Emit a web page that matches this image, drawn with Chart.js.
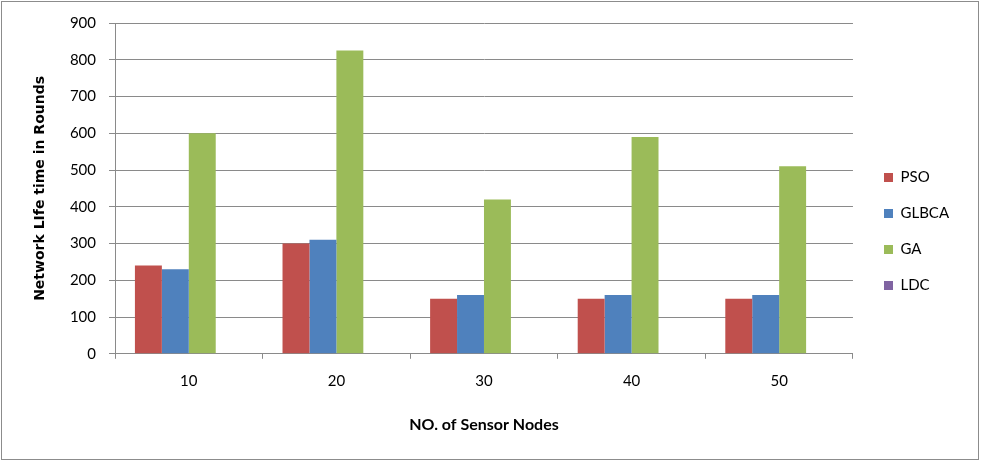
<!DOCTYPE html>
<html>
<head>
<meta charset="utf-8">
<script src="https://cdn.jsdelivr.net/npm/chart.js@4/dist/chart.umd.min.js"></script>
<style>
  html, body { margin: 0; padding: 0; background: #fff; }
  #wrap { width: 981px; height: 462px; }
</style>
</head>
<body>
<div id="wrap"><canvas id="myChart" width="981" height="462"></canvas></div>
<script>
// network lifetime (rounds) per number of sensor nodes
var nodes = ['10', '20', '30', '40', '50'];
var pso   = [240, 300, 150, 150, 150];
var glbca = [230, 310, 160, 160, 160];
var ga    = [600, 825, 420, 590, 510];
var ldc   = [0, 0, 0, 0, 0];

var gridGray = '#8a8a8a';

// frame round the whole picture + nudge legend into place
var framePlugin = {
  id: 'frame',
  afterUpdate: function(chart) {
    var lg = chart.legend;
    var dx = 884 - (lg.left + 21);
    lg.left += dx; lg.right += dx;
    lg.top += 3; lg.bottom += 3;
  },
  beforeDraw: function(chart) {
    var c = chart.ctx;
    c.save();
    c.fillStyle = '#fff';
    c.fillRect(0, 0, chart.width, chart.height);
    c.strokeStyle = '#8c8c8c';
    c.lineWidth = 1;
    c.strokeRect(1.5, 1.5, chart.width - 4, chart.height - 4);
    c.restore();
  }
};

var ctx = document.getElementById('myChart').getContext('2d');

var mychart = new Chart(ctx, {
  type: 'bar',
  data: {
    labels: nodes,
    datasets: [
      { label: 'PSO',   data: pso,   backgroundColor: '#C0504D' },
      { label: 'GLBCA', data: glbca, backgroundColor: '#4F81BD' },
      { label: 'GA',    data: ga,    backgroundColor: '#9BBB59' },
      { label: 'LDC',   data: ldc,   backgroundColor: '#8064A2' }
    ]
  },
  options: {
    responsive: false,
    animation: false,
    layout: { padding: { left: 22, right: 32, top: 23, bottom: 28 } },
    datasets: { bar: { categoryPercentage: 0.73, barPercentage: 1.0 } },
    plugins: {
      tooltip: { enabled: false },
      legend: {
        position: 'right',
        labels: {
          boxWidth: 9, boxHeight: 9, padding: 21,
          color: '#000',
          font: { family: 'Lato', size: 15 }
        }
      }
    },
    scales: {
      x: {
        grid: { display: true, drawOnChartArea: false, color: gridGray, tickLength: 5, offset: true },
        border: { color: gridGray },
        ticks: { color: '#000', padding: 13, font: { family: 'Lato', size: 15 } },
        title: {
          display: true, text: 'NO. of Sensor Nodes', color: '#000',
          font: { family: 'Lato', size: 16, weight: 'bold' },
          padding: { top: 12, bottom: 0 }
        }
      },
      y: {
        min: 0, max: 900,
        grid: { color: gridGray, tickLength: 6 },
        border: { color: gridGray },
        ticks: { stepSize: 100, color: '#000', padding: 13, font: { family: 'Lato', size: 15 } },
        title: {
          display: true, text: 'Network LIfe time in Rounds', color: '#000',
          font: { family: 'DejaVu Sans', size: 14, weight: 'bold' },
          padding: { top: 10, bottom: 0 }
        },
        afterFit: function(scale) { scale.width = 93; }
      }
    }
  },
  plugins: [framePlugin]
});
</script>
</body>
</html>
